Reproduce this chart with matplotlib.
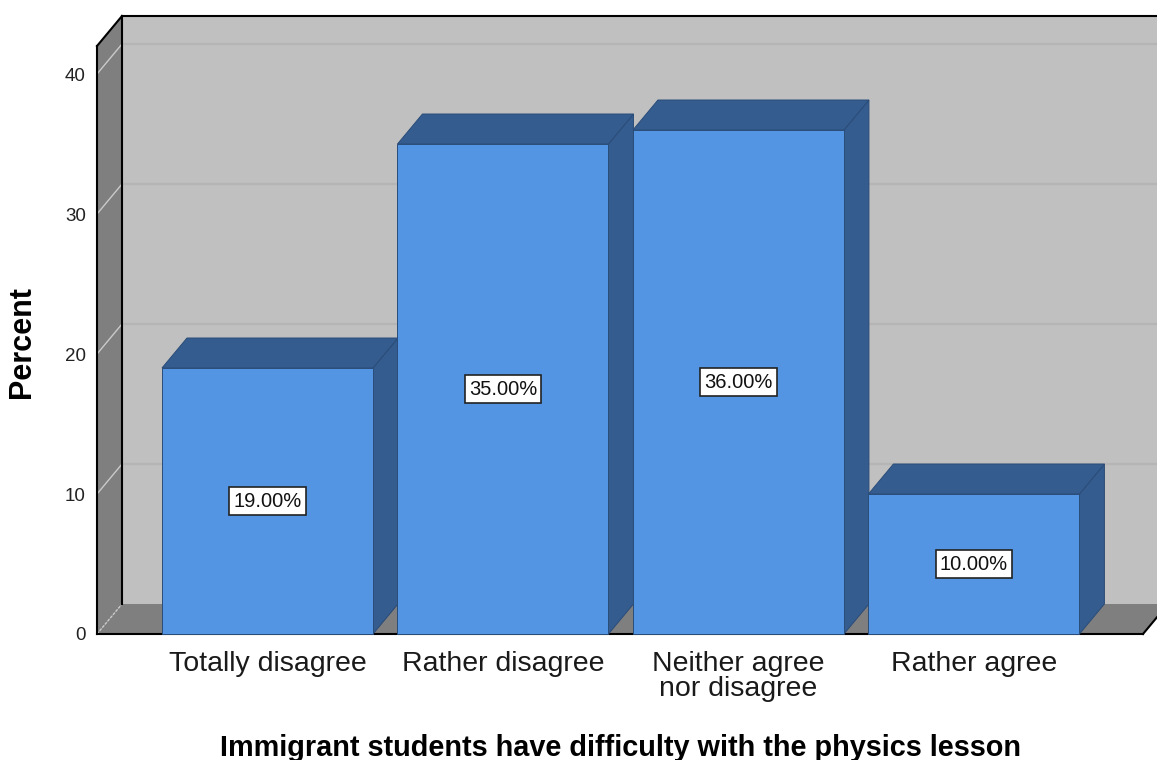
import matplotlib
matplotlib.use("Agg")
import matplotlib.pyplot as plt
from matplotlib.patches import Polygon

plt.rcParams['font.family'] = ['Liberation Sans', 'DejaVu Sans']

categories = ["Totally disagree", "Rather disagree", "Neither agree\nnor disagree", "Rather agree"]
percents = [19.0, 35.0, 36.0, 10.0]
y_ticks = [0, 10, 20, 30, 40]
x_title = "Immigrant students have difficulty with the physics lesson"
y_title = "Percent"

W, H, DPI = 1157, 760, 100
fig = plt.figure(figsize=(W / DPI, H / DPI), dpi=DPI)
fig.patch.set_facecolor("white")

# front plane of the chart box, in pixels
left_px, right_px, bottom_px, top_px = 97, 1143, 634, 46
ax = fig.add_axes([left_px / W, (H - bottom_px) / H,
                   (right_px - left_px) / W, (bottom_px - top_px) / H])
xmin, xmax = -0.724, 3.718
ymin, ymax = 0, 42
ax.set_xlim(xmin, xmax)
ax.set_ylim(ymin, ymax)
ax.patch.set_visible(False)
for s in ax.spines.values():
    s.set_visible(False)

# depth of the 3D box, converted from pixels to data units
depth_px = (25, 30)
ddx = depth_px[0] * (xmax - xmin) / (right_px - left_px)
ddy = depth_px[1] * (ymax - ymin) / (bottom_px - top_px)

wall_col = "#c0c0c0"
side_col = "#7f7f7f"
front_col = "#5394e3"
dark_col = "#345c8f"
edge_col = "#2a4c78"

def poly(pts, fc, ec="none", lw=0, z=1):
    p = Polygon(pts, closed=True, facecolor=fc, edgecolor=ec, linewidth=lw,
                clip_on=False, zorder=z, joinstyle="miter")
    ax.add_patch(p)

far = xmax + 1.0
# back wall, left wall and floor
poly([(xmin + ddx, ddy), (far, ddy), (far, ymax + ddy), (xmin + ddx, ymax + ddy)], wall_col, z=1)
poly([(xmin, 0), (xmin, ymax), (xmin + ddx, ymax + ddy), (xmin + ddx, ddy)], side_col, z=1)
poly([(xmin, 0), (xmax, 0), (xmax + ddx, ddy), (xmin + ddx, ddy)], side_col, z=1)

# gridlines on the walls
for v in y_ticks:
    if v > 0:
        ax.plot([xmin + ddx, far], [v + ddy, v + ddy], color="#b5b5b5", lw=1.6,
                clip_on=False, zorder=2, solid_capstyle="butt")
    ax.plot([xmin, xmin + ddx], [v, v + ddy], color="#cacaca", lw=1.0,
            clip_on=False, zorder=2, ls=(0, (2, 1)) if v == 0 else "-")

# box edges
k = dict(color="black", lw=1.5, clip_on=False, zorder=3, solid_capstyle="projecting")
ax.plot([xmin, xmin], [0, ymax], **k)
ax.plot([xmin, xmin + ddx], [ymax, ymax + ddy], **k)
ax.plot([xmin + ddx, far], [ymax + ddy, ymax + ddy], **k)
ax.plot([xmin + ddx, xmin + ddx], [ddy, ymax + ddy], **k)
ax.plot([xmin, xmax], [0, 0], **k)
ax.plot([xmax, xmax + ddx], [0, ddy], **k)

# 3D bars
bw = 0.896
for i, v in enumerate(percents):
    x0, x1 = i - bw / 2, i + bw / 2
    z = 5 + i
    poly([(x1, 0), (x1, v), (x1 + ddx, v + ddy), (x1 + ddx, ddy)], dark_col, edge_col, 0.7, z)
    poly([(x0, v), (x1, v), (x1 + ddx, v + ddy), (x0 + ddx, v + ddy)], dark_col, edge_col, 0.7, z)
    poly([(x0, 0), (x1, 0), (x1, v), (x0, v)], front_col, edge_col, 0.7, z)
    ax.text(i, v / 2, f"{v:.2f}%", ha="center", va="center", fontsize=14.5,
            color="#111111", zorder=20,
            bbox=dict(boxstyle="square,pad=0.2", facecolor="white",
                      edgecolor="#222222", linewidth=1.2))

ax.set_xticks(range(len(categories)))
ax.set_xticklabels(categories, fontsize=20.5, linespacing=0.98, color="#1a1a1a")
ax.set_yticks(y_ticks)
ax.set_yticklabels([str(t) for t in y_ticks], fontsize=13.5, color="#222222")
ax.tick_params(axis="x", length=0, pad=12)
ax.tick_params(axis="y", length=0, pad=8)

fig.text(620 / W, 1 - 748 / H, x_title, ha="center", va="center",
         fontsize=20.8, fontweight="bold", color="black")
fig.text(22 / W, 1 - 342 / H, y_title, ha="center", va="center", rotation=90,
         fontsize=22, fontweight="bold", color="black")

fig.savefig("out.png", dpi=DPI)
